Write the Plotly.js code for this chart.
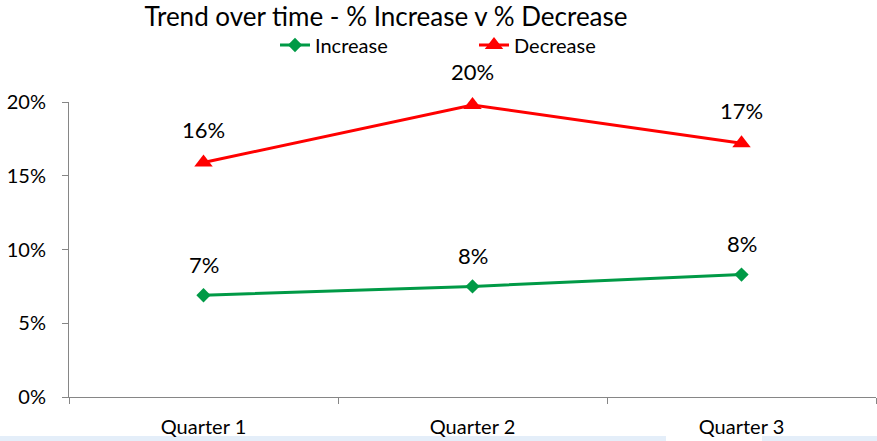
<!DOCTYPE html>
<html><head><meta charset="utf-8">
<script src="https://cdn.plot.ly/plotly-3.0.1.min.js"></script>
<style>html,body{margin:0;padding:0;background:#fff;}#chart{width:877px;height:441px;}</style>
</head><body><div id="chart"></div>
<script>
const categories = ["Quarter 1", "Quarter 2", "Quarter 3"];
const increase = [0.069, 0.075, 0.083];
const decrease = [0.159, 0.198, 0.172];
const increaseLabels = ["7%", "8%", "8%"];
const decreaseLabels = ["16%", "20%", "17%"];
const yTickVals = [0, 0.05, 0.10, 0.15, 0.20];
const yTickText = ["0%", "5%", "10%", "15%", "20%"];

const FONT = "Lato, 'Open Sans', sans-serif";

const traces = [
  {x: categories, y: increase, name: "Increase", type: "scatter", mode: "lines+markers", cliponaxis: false,
   line: {color: "#009A46", width: 3}, marker: {symbol: "diamond", size: 11, color: "#009A46"}},
  {x: categories, y: decrease, name: "Decrease", type: "scatter", mode: "lines+markers", cliponaxis: false,
   line: {color: "#FF0000", width: 3}, marker: {symbol: "triangle-up", size: 16, color: "#FF0000"}}
];

const annotations = [];
categories.forEach((c, i) => {
  annotations.push({x: c, y: increase[i], text: increaseLabels[i], showarrow: false, yshift: 31,
    font: {family: FONT, size: 22, color: "#000"}});
  annotations.push({x: c, y: decrease[i], text: decreaseLabels[i], showarrow: false, yshift: 33,
    font: {family: FONT, size: 22, color: "#000"}});
});

const layout = {
  width: 877, height: 441,
  margin: {l: 69, r: 1, t: 102, b: 44},
  paper_bgcolor: "#fff", plot_bgcolor: "#fff",
  font: {family: FONT, size: 20, color: "#000"},
  title: {text: "Trend over time - % Increase v % Decrease", x: 386/877, xanchor: "center",
          y: 1 - 17/441, yanchor: "middle", font: {family: FONT, size: 26, color: "#000"}},
  showlegend: true,
  legend: {orientation: "h", x: 275/877, xanchor: "left", y: 1 - 45/441, yanchor: "middle",
           xref: "container", yref: "container", font: {family: FONT, size: 20, color: "#000"},
           entrywidth: 154, entrywidthmode: "pixels", tracegroupgap: 0, bgcolor: "rgba(0,0,0,0)"},
  xaxis: {type: "category", range: [-0.5, 2.5], showgrid: false, zeroline: false,
          showline: true, linecolor: "#868686", linewidth: 1,
          ticks: "outside", tickson: "boundaries", ticklen: 6, tickcolor: "#868686",
          ticklabelstandoff: 12, tickfont: {family: FONT, size: 20, color: "#000"}, fixedrange: true},
  yaxis: {range: [0, 0.2], tickvals: yTickVals, ticktext: yTickText, showgrid: false, zeroline: false,
          showline: true, linecolor: "#868686", linewidth: 1,
          ticks: "outside", ticklen: 6, tickcolor: "#868686", ticklabelstandoff: 12,
          tickfont: {family: FONT, size: 20, color: "#000"}, fixedrange: true},
  annotations: annotations,
  shapes: [
    {type: "rect", xref: "paper", yref: "paper", x0: -69/807, x1: 666/807 - 69/807, y0: -44/295, y1: -39/295,
     fillcolor: "#E4EEF9", line: {width: 0}, layer: "below"},
    {type: "rect", xref: "paper", yref: "paper", x0: 762/807 - 69/807, x1: 1.01, y0: -44/295, y1: -39/295,
     fillcolor: "#E4EEF9", line: {width: 0}, layer: "below"}
  ]
};

Plotly.newPlot("chart", traces, layout, {displayModeBar: false, staticPlot: true});
</script></body></html>
